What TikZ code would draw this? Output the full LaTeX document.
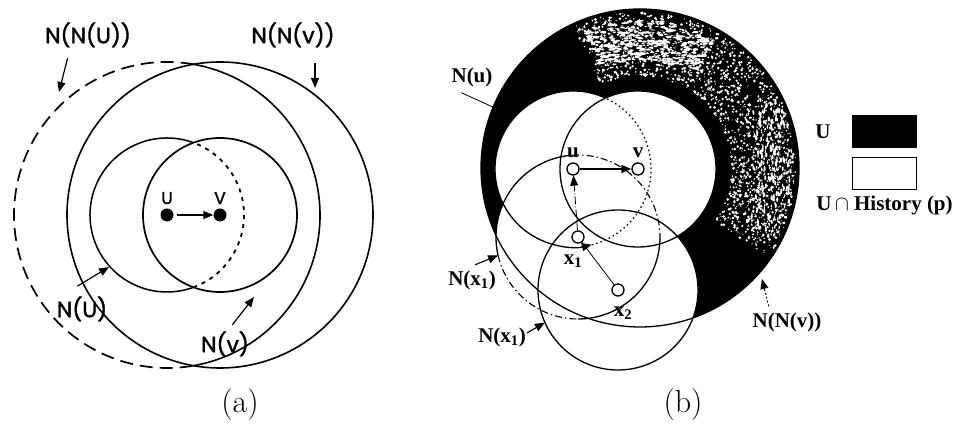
\documentclass[tikz,border=0pt]{standalone}
\usepackage{fontspec}
\newfontfamily\gothfont{Poppins}[FakeBold=1.6]
\newfontfamily\timesfont{Liberation Serif}
\usetikzlibrary{arrows.meta,positioning,calc}

\tikzset{
  arr/.style={-{Triangle[length=10pt,width=8pt]}},
  laba/.style={font={\gothfont\fontsize{22}{24}\selectfont}, inner sep=1pt},
  labs/.style={font={\gothfont\fontsize{17}{19}\selectfont}, inner sep=1pt},
  labb/.style={font={\timesfont\bfseries\fontsize{21}{24}\selectfont}, inner sep=1pt},
  pta/.style={circle, fill=black, inner sep=0pt, minimum size=13pt},
  ptb/.style={circle, draw, line width=1.3pt, fill=white, inner sep=0pt, minimum size=12pt},
  nsl/.style={line width=1.3pt},
  ndd/.style={line width=1.1pt, dash pattern=on 7pt off 3pt on 1.5pt off 3pt},
  ndt/.style={line width=1.3pt, dash pattern=on 1.5pt off 3pt},
}

\begin{document}
\begin{tikzpicture}[x=1pt, y=1pt]
\useasboundingbox (0,0) rectangle (954,427);

% (a)
\coordinate (au) at (167,212);
\coordinate (av) at (220,212);
\draw[line width=1.7pt, dash pattern=on 13pt off 7pt] (au) ++(80:153) arc[start angle=80, end angle=280, radius=153];
\draw[line width=1.6pt] (au) ++(-80:153) arc[start angle=-80, end angle=80, radius=153];
\draw[line width=1.6pt] (av) circle (153);
\draw[line width=1.5pt] (au) ++(70:77) arc[start angle=70, end angle=290, radius=77];
\draw[line width=1.8pt, dash pattern=on 4pt off 5pt] (au) ++(-70:77) arc[start angle=-70, end angle=70, radius=77];
\draw[line width=1.7pt] (av) circle (77);
\node[pta] (u) at (au) {};
\node[pta] (v) at (av) {};
\node[labs, above=3pt of u] (ulab) {U};
\node[labs, above=3pt of v] (vlab) {V};
\draw[line width=1.2pt, arr, shorten <=3pt] (u) -- (v);

\node[laba] (nnu) at (88,392) {N(N(U))};
\node[laba] (nnv) at (293,392) {N(N(v))};
\node[laba] (nu) at (82,118) {N(U)};
\node[laba] (nv) at (225,83) {N(v)};
\coordinate (nnut) at (59,335);
\coordinate (nnvt) at (315,339);
\coordinate (nut) at (109,160);
\coordinate (nvt) at (254,130);
\draw[line width=1.2pt, arr, shorten <=10pt] ([xshift=-18pt]nnu.south) -- (nnut);
\draw[line width=1.2pt, arr, shorten <=14pt] ([xshift=22pt]nnv.south) -- (nnvt);
\draw[line width=1.2pt, arr, shorten <=18pt] ([xshift=-20pt]nu.north) -- (nut);
\draw[line width=1.2pt, arr, shorten <=7pt] ([xshift=3pt]nv.north) -- (nvt);
\node[font=\fontsize{32}{36}\selectfont] (capa) at (240,22) {(a)};

% (b)
\coordinate (bc) at (640,259);
\coordinate (bu) at (573,258);
\coordinate (bv) at (638,258);
\coordinate (bx1) at (578,190);
\coordinate (bx2) at (618,137);
\begin{scope}
  \clip (bc) circle (159);
  \fill[black] (bc) circle (159);
  \pgfmathsetseed{17}
  \foreach \k in {1,...,1700}{
    \pgfmathsetmacro{\ang}{-35+150*rnd}
    \pgfmathsetmacro{\rad}{92+64*rnd}
    \pgfmathsetmacro{\sz}{0.4+1.1*rnd}
    \fill[white] ($(bc)+(\ang:\rad)$) circle (\sz);
  }
  \foreach \k in {1,...,550}{
    \pgfmathsetmacro{\ang}{60+52*rnd}
    \pgfmathsetmacro{\rad}{108+40*rnd}
    \pgfmathsetmacro{\sz}{0.5+1.3*rnd}
    \fill[white] ($(bc)+(\ang:\rad)$) ellipse (\sz*1.6 and \sz*0.7);
  }
  \foreach \k in {1,...,350}{
    \pgfmathsetmacro{\ang}{-28+55*rnd}
    \pgfmathsetmacro{\rad}{118+36*rnd}
    \pgfmathsetmacro{\sz}{0.5+1.1*rnd}
    \fill[white] ($(bc)+(\ang:\rad)$) ellipse (\sz*0.7 and \sz*1.6);
  }
\end{scope}
\foreach \c/\r in {bu/78, bv/78, bx1/82, bx2/80}
  \fill[white] (\c) circle (\r);
\draw[nsl] (bc) circle (159);
\draw[nsl] (bv) circle (78);
\draw[nsl] (bx2) circle (80);
\draw[nsl, arr] (bu) ++(65.4:78) arc[start angle=65.4, end angle=284, radius=78];
\draw[ndt] (bu) ++(-76:78) arc[start angle=-76, end angle=65.4, radius=78];
\foreach \a/\b/\s in {-2/95/ndd, 95/193/nsl, 193/270/ndd, 270/358/nsl}
  \draw[\s] (bx1) ++(\a:82) arc[start angle=\a, end angle=\b, radius=82];

\node[ptb] (pu) at (bu) {};
\node[ptb] (pv) at (bv) {};
\node[ptb] (px1) at (bx1) {};
\node[ptb] (px2) at (bx2) {};
\node[labb, above=3pt of pu] (pul) {u};
\node[labb, above=3pt of pv] (pvl) {v};
\node[labb] (px1l) at (573,166) {x\textsubscript{1}};
\node[labb] (px2l) at (623,114) {x\textsubscript{2}};
\draw[nsl, arr] (pu) -- (pv);
\draw[line width=0.8pt, dash pattern=on 8pt off 2pt on 1pt off 2pt, arr] (px1) -- (pu);
\draw[line width=0.8pt] (px1) -- (px2);

\node[labb] (nul) at (472,350) {N(u)};
\coordinate (nub) at ($(bc)+(157.5:159)$);
\draw[line width=0.8pt, shorten <=12pt] (nul.south west) -- (nub);
\node[labb] (nx1l) at (472,147) {N(x\textsubscript{1})};
\coordinate (nx1t) at ($(bx1)+(193:82)$);
\draw[line width=1.1pt, arr, shorten <=12pt] ([xshift=-8pt]nx1l.north) -- (nx1t);
\node[labb] (nx2l) at (502,90) {N(x\textsubscript{1})};
\coordinate (nx2t) at ($(bx2)+(204:80)$);
\draw[line width=1.1pt, arr] ([yshift=4pt]nx2l.east) -- (nx2t);
\node[labb] (nnvl) at (787,105) {N(N(v))};
\coordinate (nnbt) at (762,148);
\draw[line width=0.9pt, dash pattern=on 2pt off 2pt, arr, shorten <=5pt] ([xshift=-17pt]nnvl.north) -- (nnbt);

\node[fill=black, minimum width=65pt, minimum height=33pt, inner sep=0pt] (lgu) at (884.5,295.5) {};
\node[draw, line width=1.3pt, fill=white, minimum width=64pt, minimum height=32pt, inner sep=0pt] (lgh) at (884.5,253.5) {};
\node[labb, left=20pt of lgu] (lgut) {U};
\node[labb, below=5pt of lgh] (lght) {U\,$\cap$ History (p)};
\node[font=\fontsize{32}{36}\selectfont] (capb) at (683,22) {(b)};
\end{tikzpicture}
\end{document}
